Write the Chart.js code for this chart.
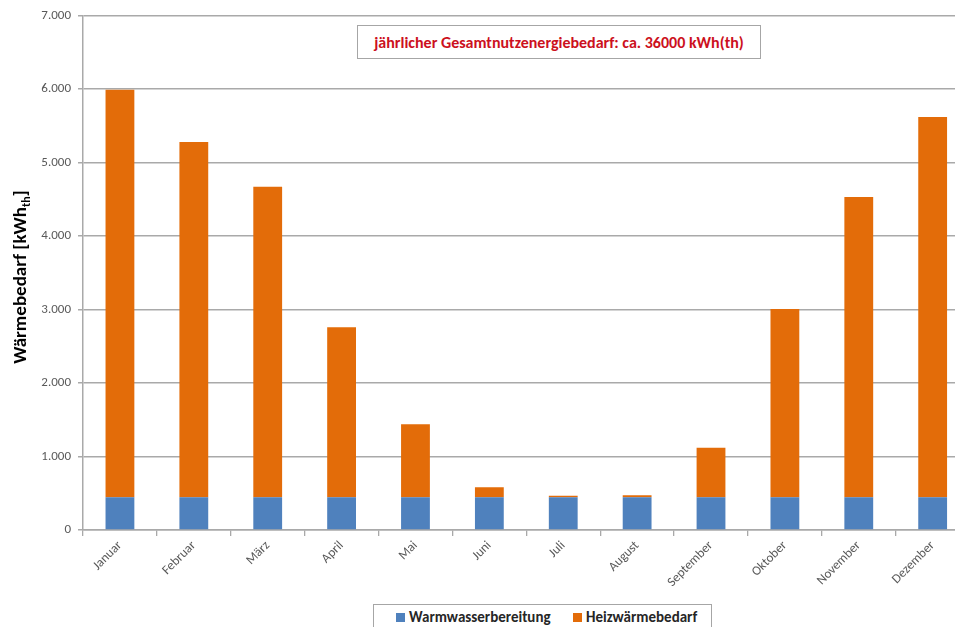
<!DOCTYPE html>
<html>
<head>
<meta charset="utf-8">
<title>Wärmebedarf pro Monat</title>
<script src="https://cdn.jsdelivr.net/npm/chart.js@4/dist/chart.umd.min.js"></script>
<style>
  html, body { margin: 0; padding: 0; width: 955px; height: 627px; overflow: hidden; background: #fff; }
  #wrap { position: absolute; left: 0; top: 0; width: 975px; height: 627px; }
  canvas { display: block; }
  .font { font-family: Carlito, Calibri, Lato, "Open Sans", sans-serif; }
  #note {
    position: absolute; left: 357px; top: 25px; width: 404px; height: 34px;
    border: 1.5px solid #a6a6a6; box-sizing: border-box; background: #fff;
    color: #cc1020; font-weight: bold; font-size: 16px;
    display: flex; align-items: center; justify-content: center; white-space: nowrap;
  }
  #ytitle {
    position: absolute; left: -130px; top: 265px; width: 300px; height: 24px;
    transform: rotate(-90deg); transform-origin: 150px 12px;
    text-align: center; font-weight: bold; font-size: 19px; color: #000; line-height: 24px; white-space: nowrap;
  }
  #ytitle sub { font-size: 12px; vertical-align: -4px; line-height: 0; }
  #legend {
    position: absolute; left: 373px; top: 604px; width: 339px; height: 40px;
    border: 1.5px solid #a6a6a6; box-sizing: border-box; background: #fff;
    font-weight: bold; font-size: 15px; color: #262626; white-space: nowrap;
  }
  #legend span.item { position: absolute; top: 3px; display: flex; align-items: center; }
  #legend i { display: inline-block; width: 9px; height: 9px; margin-right: 4px; }
</style>
</head>
<body>
<div id="wrap">
  <canvas id="chart" width="975" height="627"></canvas>
</div>
<div id="note" class="font">jährlicher Gesamtnutzenergiebedarf: ca. 36000 kWh(th)</div>
<div id="ytitle" class="font">Wärmebedarf [kWh<sub>th</sub>]</div>
<div id="legend" class="font"></div>
<script>
// Monthly heat demand in kWh(th): hot water + space heating, stacked
const months = ["Januar", "Februar", "März", "April", "Mai", "Juni", "Juli",
                "August", "September", "Oktober", "November", "Dezember"];
const warmwasser = [445, 445, 445, 445, 445, 445, 445, 445, 445, 445, 445, 445];
const heizwaerme = [5545, 4835, 4225, 2315, 993, 136, 20, 27, 675, 2562, 4086, 5174];
const seriesNames = ["Warmwasserbereitung", "Heizwärmebedarf"];
const seriesColors = ["#4f81bd", "#e36c09"];
const yMax = 7000;
const yStep = 1000;

const FONT = "Carlito, Calibri, Lato, 'Open Sans', sans-serif";
const GRID = "#a9a9a9";

function formatDe(v) {
  return String(v).replace(/\B(?=(\d{3})+(?!\d))/g, ".");
}

new Chart(document.getElementById("chart"), {
  type: "bar",
  data: {
    labels: months,
    datasets: [
      { label: seriesNames[0], data: warmwasser, backgroundColor: seriesColors[0] },
      { label: seriesNames[1], data: heizwaerme, backgroundColor: seriesColors[1] }
    ]
  },
  options: {
    responsive: false,
    animation: false,
    events: [],
    layout: { padding: { left: 0, right: 5.4, top: 15.5, bottom: 0 } },
    datasets: { bar: { barPercentage: 0.39, categoryPercentage: 1.0, borderWidth: 0 } },
    plugins: { legend: { display: false }, tooltip: { enabled: false } },
    scales: {
      x: {
        stacked: true,
        afterFit: s => { s.height = 97; },
        grid: { display: true, drawOnChartArea: false, drawTicks: true, tickLength: 6, color: GRID, lineWidth: 1.3, offset: true },
        border: { display: true, color: GRID, width: 1.5 },
        ticks: {
          autoSkip: false, maxRotation: 45, minRotation: 45, padding: 2,
          color: "#595959", font: { family: FONT, size: 13 }
        }
      },
      y: {
        stacked: true,
        min: 0, max: yMax,
        afterFit: s => { s.width = 83; },
        grid: { color: GRID, lineWidth: 1.5, drawTicks: true, tickLength: 5 },
        border: { display: true, color: GRID, width: 1.5 },
        ticks: {
          stepSize: yStep, padding: 7,
          color: "#595959", font: { family: FONT, size: 13 },
          callback: v => formatDe(v)
        }
      }
    }
  }
});

// Legend entries
const legend = document.getElementById("legend");
const legendX = [22, 199];
seriesNames.forEach((name, i) => {
  const item = document.createElement("span");
  item.className = "item";
  item.style.left = legendX[i] + "px";
  const sw = document.createElement("i");
  sw.style.background = seriesColors[i];
  item.appendChild(sw);
  item.appendChild(document.createTextNode(name));
  legend.appendChild(item);
});
</script>
</body>
</html>
